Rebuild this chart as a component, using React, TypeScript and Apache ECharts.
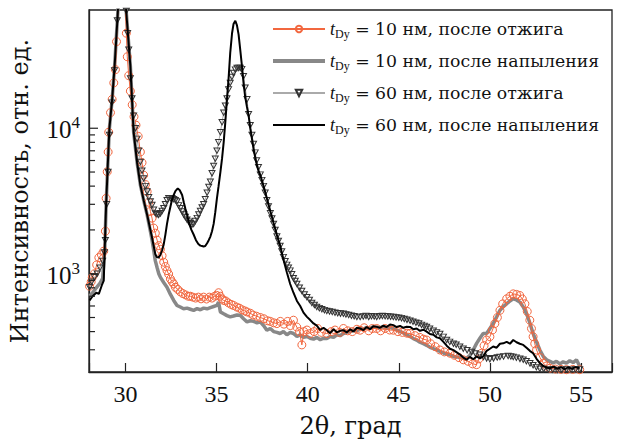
import React, { useEffect, useRef } from "react";
import * as echarts from "echarts";

const X_MIN = 28;
const X_MAX = 56.7;
const Y_MIN = 211;
const Y_MAX = 65000;

const xTickLabels = [30, 35, 40, 45, 50, 55];
const yMajorTicks = [1000, 10000];
const yMinorTicks = [300, 400, 500, 600, 700, 800, 900, 2000, 3000, 4000, 5000, 6000, 7000, 8000, 9000];

const legendLabels = [
  "= 10 нм, после отжига",
  "= 10 нм, после напыления",
  "= 60 нм, после отжига",
  "= 60 нм, после напыления",
];

// t_Dy = 10 nm, annealed (circles)
const annealed10: [number, number][] = [
  [28.03, 820], [28.12, 880], [28.18, 944], [28.3, 1000], [28.42, 1150], [28.54, 1290], [28.68, 1350], [28.81, 1430],
  [28.9, 1960], [28.94, 3300], [29.0, 5020], [29.05, 6870], [29.08, 9390], [29.18, 12800], [29.27, 15800], [29.36, 20500],
  [29.45, 25300], [29.51, 39400], [29.82, 300000], [30.05, 45000], [30.1, 31000], [30.18, 23000], [30.27, 18000],
  [30.37, 14500], [30.47, 12000], [30.58, 10500], [30.7, 8800], [30.82, 6870], [30.91, 5800], [31.0, 4760], [31.1, 4100],
  [31.19, 3670], [31.28, 3100], [31.37, 2680], [31.46, 2410], [31.55, 2060], [31.64, 1900], [31.74, 1700], [31.83, 1560],
  [31.92, 1470], [32.01, 1330], [32.1, 1200], [32.19, 1120], [32.28, 1050], [32.37, 994], [32.47, 920], [32.56, 880],
  [32.65, 850], [32.74, 807], [32.87, 780], [33.01, 750], [33.15, 730], [33.3, 715], [33.45, 700], [33.56, 700],
  [33.7, 690], [33.85, 680], [34.0, 690], [34.15, 672], [34.29, 690], [34.45, 670], [34.6, 690], [34.75, 680],
  [34.9, 700], [35.0, 710], [35.11, 740], [35.2, 700], [35.3, 670], [35.39, 655], [35.5, 650], [35.65, 630],
  [35.8, 615], [35.93, 605], [36.1, 590], [36.25, 580], [36.4, 565], [36.55, 555], [36.67, 546], [36.85, 535],
  [37.0, 520], [37.2, 510], [37.4, 500], [37.6, 490], [37.8, 475], [37.95, 470], [38.13, 460], [38.31, 454],
  [38.5, 470], [38.7, 450], [38.9, 470], [39.05, 440], [39.22, 479], [39.4, 430], [39.55, 400], [39.68, 324],
  [39.8, 400], [39.96, 410], [40.14, 388], [40.35, 400], [40.55, 420], [40.75, 395], [41.05, 388], [41.3, 400],
  [41.5, 410], [41.75, 395], [41.96, 420], [42.2, 405], [42.45, 400], [42.7, 415], [42.88, 409], [43.1, 425],
  [43.35, 405], [43.55, 420], [43.79, 420], [44.0, 405], [44.25, 420], [44.5, 410], [44.7, 409], [44.95, 400],
  [45.2, 395], [45.45, 390], [45.62, 388], [45.9, 375], [46.15, 365], [46.35, 355], [46.53, 350], [46.75, 330],
  [47.0, 315], [47.26, 299], [47.5, 290], [47.81, 284], [48.05, 275], [48.3, 265], [48.54, 256], [48.8, 250],
  [49.05, 240], [49.27, 237], [49.4, 260], [49.54, 284], [49.68, 320], [49.82, 350], [50.0, 369], [50.14, 410],
  [50.27, 454], [50.41, 500], [50.55, 560], [50.7, 620], [50.92, 672], [51.1, 700], [51.28, 727], [51.46, 720],
  [51.64, 708], [51.78, 670], [51.92, 621], [52.05, 550], [52.19, 479], [52.28, 420], [52.37, 369], [52.46, 330],
  [52.56, 299], [52.75, 265], [52.93, 243], [53.1, 232], [53.29, 224], [53.6, 221], [53.9, 220], [54.2, 219],
  [54.55, 220], [54.93, 219],
];

// t_Dy = 10 nm, as deposited (thick gray)
const deposited10: [number, number][] = [
  [28.03, 700], [28.2, 740], [28.4, 800], [28.6, 860], [28.75, 930], [28.87, 1500], [28.94, 2970], [29.03, 5570],
  [29.12, 10000], [29.27, 15800], [29.4, 26000], [29.58, 62000], [29.82, 300000], [30.04, 64000], [30.27, 26700],
  [30.45, 9390], [30.64, 5800], [30.82, 4070], [31.0, 3200], [31.19, 2540], [31.37, 1950], [31.46, 1700], [31.55, 1450],
  [31.64, 1225], [31.74, 1100], [31.83, 1000], [31.92, 944], [32.1, 870], [32.28, 807], [32.47, 720], [32.65, 655],
  [32.83, 605], [33.01, 590], [33.19, 574], [33.38, 580], [33.56, 570], [33.74, 560], [33.93, 575], [34.11, 565],
  [34.29, 580], [34.48, 574], [34.66, 585], [34.84, 595], [35.02, 605], [35.11, 638], [35.21, 546], [35.39, 530],
  [35.57, 515], [35.75, 505], [35.93, 512], [36.12, 520], [36.3, 518], [36.48, 490], [36.67, 467], [36.85, 475],
  [37.03, 470], [37.22, 460], [37.4, 467], [37.58, 440], [37.76, 409], [37.95, 420], [38.13, 400], [38.31, 395],
  [38.49, 388], [38.67, 400], [38.86, 380], [39.04, 395], [39.22, 388], [39.41, 370], [39.59, 380], [39.77, 365],
  [39.96, 370], [40.14, 360], [40.32, 355], [40.5, 365], [40.69, 352], [40.87, 360], [41.05, 358], [41.23, 370],
  [41.42, 365], [41.6, 380], [41.78, 375], [41.96, 388], [42.15, 395], [42.33, 400], [42.51, 410], [42.7, 405],
  [42.88, 420], [43.06, 415], [43.24, 428], [43.42, 420], [43.6, 432], [43.79, 431], [43.97, 425], [44.15, 432],
  [44.33, 420], [44.52, 428], [44.7, 420], [44.88, 410], [45.07, 400], [45.25, 392], [45.43, 380], [45.62, 370],
  [45.8, 358], [45.98, 350], [46.16, 338], [46.35, 330], [46.53, 322], [46.71, 312], [46.9, 305], [47.08, 299],
  [47.26, 292], [47.45, 285], [47.63, 280], [47.81, 277], [48.0, 270], [48.18, 268], [48.36, 265], [48.54, 262],
  [48.72, 262], [48.9, 275], [49.09, 300], [49.27, 332], [49.45, 360], [49.63, 388], [49.82, 388], [50.0, 420],
  [50.18, 454], [50.37, 505], [50.55, 560], [50.73, 595], [50.92, 621], [51.1, 650], [51.28, 672], [51.46, 660],
  [51.64, 638], [51.83, 590], [52.01, 531], [52.19, 460], [52.37, 388], [52.56, 340], [52.74, 299], [52.93, 270],
  [53.11, 256], [53.29, 250], [53.47, 243], [53.65, 250], [53.84, 240], [54.02, 248], [54.2, 243], [54.38, 252],
  [54.57, 245], [54.75, 256], [54.93, 231],
];

// t_Dy = 60 nm, annealed (triangles)
const annealed60: [number, number][] = [
  [28.03, 807], [28.15, 880], [28.3, 944], [28.45, 1000], [28.6, 1100], [28.75, 1225], [28.85, 1400], [28.9, 1700],
  [28.97, 3000], [29.05, 5000], [29.12, 9000], [29.25, 15000], [29.4, 25000], [29.55, 55000], [29.82, 300000],
  [30.05, 64000], [30.12, 45000], [30.18, 34600], [30.27, 22000], [30.36, 16000], [30.45, 12200], [30.55, 10000],
  [30.64, 8450], [30.73, 7000], [30.82, 5870], [30.91, 5100], [31.0, 4520], [31.1, 4000], [31.19, 3670], [31.28, 3350],
  [31.37, 3140], [31.46, 2970], [31.55, 2750], [31.64, 2610], [31.73, 2560], [31.82, 2540], [31.92, 2600], [32.01, 2700],
  [32.1, 2820], [32.19, 3000], [32.28, 3200], [32.37, 3300], [32.47, 3300], [32.56, 3300], [32.65, 3250], [32.74, 3200],
  [32.83, 3140], [32.92, 2950], [33.01, 2820], [33.11, 2680], [33.2, 2550], [33.29, 2450], [33.38, 2350], [33.47, 2280],
  [33.56, 2220], [33.65, 2170], [33.74, 2200], [33.83, 2300], [33.93, 2410], [34.02, 2550], [34.11, 2700], [34.2, 2850],
  [34.29, 3000], [34.38, 3250], [34.48, 3600], [34.57, 3950], [34.66, 4290], [34.75, 4900], [34.84, 5500], [34.93, 6180],
  [35.02, 7000], [35.11, 8000], [35.21, 9390], [35.3, 11000], [35.39, 12800], [35.48, 14300], [35.57, 16000],
  [35.66, 18500], [35.75, 20500], [35.84, 22500], [35.93, 24000], [36.03, 25300], [36.12, 26000], [36.21, 26000],
  [36.3, 26000], [36.39, 25500], [36.48, 22800], [36.57, 19000], [36.67, 15800], [36.76, 12500], [36.85, 10500],
  [36.94, 9000], [37.03, 7800], [37.12, 6800], [37.2, 6000], [37.3, 5400], [37.4, 4800], [37.49, 4400], [37.58, 4000],
  [37.67, 3600], [37.76, 3200], [37.85, 2900], [37.95, 2600], [38.04, 2400], [38.13, 2200], [38.22, 2000], [38.31, 1800],
  [38.4, 1680], [38.49, 1550], [38.58, 1420], [38.67, 1300], [38.77, 1220], [38.86, 1150], [38.95, 1100], [39.04, 1050],
  [39.13, 990], [39.22, 930], [39.32, 890], [39.41, 850], [39.55, 800], [39.68, 760], [39.82, 720], [39.96, 690],
  [40.1, 660], [40.23, 630], [40.37, 610], [40.5, 590], [40.64, 580], [40.78, 570], [40.92, 562], [41.05, 555],
  [41.2, 550], [41.35, 545], [41.5, 540], [41.65, 535], [41.8, 532], [41.96, 531], [42.1, 525], [42.25, 520],
  [42.4, 515], [42.55, 510], [42.7, 505], [42.88, 505], [43.05, 508], [43.2, 512], [43.35, 505], [43.5, 510],
  [43.65, 508], [43.79, 505], [43.95, 510], [44.1, 512], [44.25, 510], [44.4, 508], [44.55, 506], [44.7, 505],
  [44.85, 500], [45.0, 498], [45.15, 495], [45.3, 488], [45.45, 482], [45.62, 475], [45.78, 468], [45.94, 460],
  [46.1, 455], [46.25, 445], [46.4, 438], [46.53, 430], [46.7, 418], [46.9, 405], [47.08, 395], [47.26, 385],
  [47.45, 368], [47.63, 350], [47.8, 340], [48.0, 330], [48.15, 325], [48.35, 315], [48.54, 305], [48.75, 298],
  [49.0, 290], [49.2, 283], [49.45, 277], [49.65, 268], [49.82, 262], [50.0, 258], [50.2, 262], [50.4, 266],
  [50.55, 268], [50.75, 270], [51.0, 272], [51.15, 270], [51.28, 268], [51.45, 265], [51.65, 260], [51.83, 256],
  [52.0, 250], [52.2, 242], [52.37, 235], [52.55, 228], [52.74, 222], [52.95, 221], [53.2, 220], [53.45, 219],
  [53.7, 218], [53.95, 219], [54.2, 220], [54.45, 219], [54.7, 220], [54.93, 220],
];

// t_Dy = 60 nm, as deposited (black)
const deposited60: [number, number][] = [
  [28.03, 655], [28.2, 700], [28.4, 740], [28.54, 727], [28.7, 830], [28.81, 896], [28.87, 1590], [28.94, 2970],
  [29.03, 5570], [29.12, 10000], [29.27, 15800], [29.4, 26000], [29.58, 62000], [29.82, 300000], [30.04, 64000],
  [30.27, 26700], [30.45, 9390], [30.64, 5800], [30.82, 4070], [31.0, 3200], [31.19, 2540], [31.37, 2000], [31.46, 1770],
  [31.55, 1550], [31.64, 1360], [31.73, 1300], [31.82, 1290], [31.92, 1350], [32.01, 1450], [32.1, 1590], [32.19, 1850],
  [32.28, 2200], [32.37, 2540], [32.47, 2900], [32.56, 3250], [32.65, 3480], [32.74, 3700], [32.87, 3860], [32.98, 3750],
  [33.11, 3480], [33.2, 3100], [33.29, 2800], [33.38, 2540], [33.5, 2200], [33.62, 2000], [33.74, 1860], [33.87, 1700],
  [34.0, 1600], [34.11, 1560], [34.2, 1550], [34.29, 1540], [34.38, 1550], [34.48, 1620], [34.57, 1700], [34.66, 1800],
  [34.75, 1960], [34.84, 2200], [34.93, 2650], [35.02, 3300], [35.11, 4000], [35.21, 5000], [35.3, 6180], [35.39, 8000],
  [35.48, 11000], [35.57, 15800], [35.66, 22000], [35.75, 33000], [35.85, 45000], [35.93, 52000], [36.03, 54800],
  [36.12, 51000], [36.21, 44000], [36.3, 34600], [36.39, 27000], [36.48, 20500], [36.57, 16500], [36.67, 14000],
  [36.76, 12200], [36.85, 10000], [36.94, 8500], [37.03, 7230], [37.12, 6300], [37.21, 5600], [37.3, 5100], [37.4, 4770],
  [37.58, 4000], [37.76, 3300], [37.95, 2700], [38.13, 2230], [38.31, 1850], [38.49, 1560], [38.67, 1250], [38.86, 1020],
  [39.04, 850], [39.22, 740], [39.41, 650], [39.59, 600], [39.77, 540], [39.96, 505], [40.14, 480], [40.32, 455],
  [40.5, 440], [40.69, 410], [40.87, 425], [41.05, 409], [41.23, 390], [41.42, 415], [41.6, 395], [41.78, 405],
  [41.96, 409], [42.15, 395], [42.33, 415], [42.51, 400], [42.7, 425], [42.88, 420], [43.06, 410], [43.24, 430],
  [43.42, 415], [43.6, 435], [43.79, 431], [43.97, 425], [44.15, 440], [44.33, 430], [44.52, 448], [44.7, 443],
  [44.88, 430], [45.07, 438], [45.25, 425], [45.43, 432], [45.62, 431], [45.8, 415], [45.98, 420], [46.16, 405],
  [46.35, 412], [46.53, 400], [46.71, 385], [46.9, 380], [47.08, 365], [47.26, 360], [47.45, 340], [47.63, 320],
  [47.81, 305], [48.0, 298], [48.18, 288], [48.36, 278], [48.54, 265], [48.72, 256], [48.9, 268], [49.09, 258],
  [49.27, 270], [49.45, 262], [49.63, 270], [49.82, 295], [50.0, 305], [50.18, 316], [50.37, 310], [50.55, 330],
  [50.73, 332], [50.92, 340], [51.1, 330], [51.28, 350], [51.46, 338], [51.64, 330], [51.83, 324], [52.01, 310],
  [52.19, 295], [52.37, 284], [52.56, 260], [52.74, 243], [52.93, 232], [53.11, 226], [53.29, 224], [53.5, 230],
  [53.7, 222], [53.9, 228], [54.1, 221], [54.3, 227], [54.5, 222], [54.7, 228], [54.93, 224],
];

const FONT = "Liberation Serif";
const WIDE = "DejaVu Serif";
const ORANGE = "#f2673f";
const TRIANGLE = "path://M0,0 L10,0 L5,9 Z";

export default function App() {
  const ref = useRef<HTMLDivElement>(null);

  useEffect(() => {
    if (!ref.current) return;
    const chart = echarts.init(ref.current, undefined, { renderer: "svg" });
    const names = legendLabels.map((l) => "tDy " + l);
    const tickData = [
      ...yMajorTicks.map((v) => [X_MIN, v, 1]),
      ...yMinorTicks.map((v) => [X_MIN, v, 0]),
    ];

    chart.setOption({
      animation: false,
      backgroundColor: "#fff",
      textStyle: { fontFamily: FONT },
      grid: { left: 89, right: 5, top: 10, bottom: 67, show: true, borderColor: "#222", borderWidth: 1.3, backgroundColor: "transparent" },
      legend: {
        orient: "vertical",
        left: 266,
        top: 15,
        itemWidth: 52,
        itemHeight: 8,
        itemGap: 12,
        data: [
          { name: names[0] },
          { name: names[1], itemStyle: { opacity: 0 }, lineStyle: { width: 4, color: "#888" } },
          { name: names[2] },
          { name: names[3], itemStyle: { opacity: 0 }, lineStyle: { width: 2, color: "#000" } },
        ],
        formatter: (name: string) => `{i|t}{s|Dy}{n| ${name.slice(4)}}`,
        textStyle: {
          color: "#111",
          fontFamily: WIDE,
          fontSize: 17,
          rich: {
            i: { fontStyle: "italic", fontSize: 18, fontFamily: FONT, lineHeight: 22 },
            s: { fontSize: 12, fontFamily: FONT, verticalAlign: "bottom", lineHeight: 22, padding: [8, 0, 0, 0] },
            n: { fontSize: 17.3, fontFamily: WIDE, lineHeight: 22 },
          },
        },
      },
      xAxis: {
        type: "value",
        min: X_MIN,
        max: X_MAX,
        splitLine: { show: false },
        axisLine: { lineStyle: { color: "#222", width: 1.3 } },
        axisTick: { inside: true, length: 9, lineStyle: { color: "#222", width: 1.2 } },
        axisLabel: {
          color: "#111",
          fontFamily: FONT,
          fontSize: 24,
          margin: 10,
          formatter: (v: number) => (xTickLabels.includes(Math.round(v * 1000) / 1000) ? String(v) : ""),
        },
        name: "2θ, град",
        nameLocation: "middle",
        nameGap: 42,
        nameTextStyle: { color: "#111", fontFamily: WIDE, fontSize: 24 },
      },
      yAxis: {
        type: "log",
        logBase: 10,
        min: Y_MIN,
        max: Y_MAX,
        splitLine: { show: false },
        axisLine: { lineStyle: { color: "#222", width: 1.3 } },
        axisTick: { show: false },
        axisLabel: {
          color: "#111",
          fontFamily: FONT,
          margin: 9,
          formatter: (v: number) => {
            const e = Math.round(Math.log10(v));
            if (Math.abs(v - Math.pow(10, e)) / v > 1e-6 || !yMajorTicks.includes(Math.pow(10, e))) return "";
            return `{b|10}{p|${e}}`;
          },
          rich: {
            b: { fontSize: 25, fontFamily: FONT, lineHeight: 28, verticalAlign: "bottom" },
            p: { fontSize: 17, fontFamily: FONT, lineHeight: 28, verticalAlign: "top" },
          },
        },
        name: "Интенсивность, отн. ед.",
        nameLocation: "middle",
        nameGap: 57,
        nameTextStyle: { color: "#111", fontFamily: WIDE, fontSize: 24 },
      },
      series: [
        {
          name: names[0],
          type: "line",
          data: annealed10,
          symbol: "circle",
          symbolSize: 8,
          showSymbol: true,
          z: 3,
          itemStyle: { color: "rgba(255,255,255,0)", borderColor: ORANGE, borderWidth: 1 },
          lineStyle: { color: ORANGE, width: 1 },
        },
        {
          name: names[1],
          type: "line",
          data: deposited10,
          symbol: "none",
          z: 2,
          itemStyle: { color: "#888" },
          lineStyle: { color: "#888", width: 3.5 },
        },
        {
          name: names[2],
          type: "line",
          data: annealed60,
          symbol: TRIANGLE,
          symbolSize: [6, 5.5],
          showSymbol: true,
          z: 4,
          itemStyle: { color: "rgba(255,255,255,0)", borderColor: "#333", borderWidth: 1 },
          lineStyle: { color: "#aaa", width: 1 },
        },
        {
          name: names[3],
          type: "line",
          data: deposited60,
          symbol: "none",
          z: 5,
          itemStyle: { color: "#000" },
          lineStyle: { color: "#000", width: 2 },
        },
        {
          name: "yticks",
          type: "custom",
          data: tickData,
          silent: true,
          z: 10,
          renderItem: (_p: any, api: any) => {
            const v = api.value(1);
            const major = api.value(2) === 1;
            const pt = api.coord([X_MIN, v]);
            return {
              type: "line",
              shape: { x1: pt[0], y1: pt[1], x2: pt[0] + (major ? 9 : 6), y2: pt[1] },
              style: { stroke: "#222", lineWidth: 1.2 },
            };
          },
        },
      ],
    });
    return () => chart.dispose();
  }, []);

  return <div ref={ref} style={{ width: 617, height: 443, position: "absolute", left: 0, top: 0 }} />;
}
